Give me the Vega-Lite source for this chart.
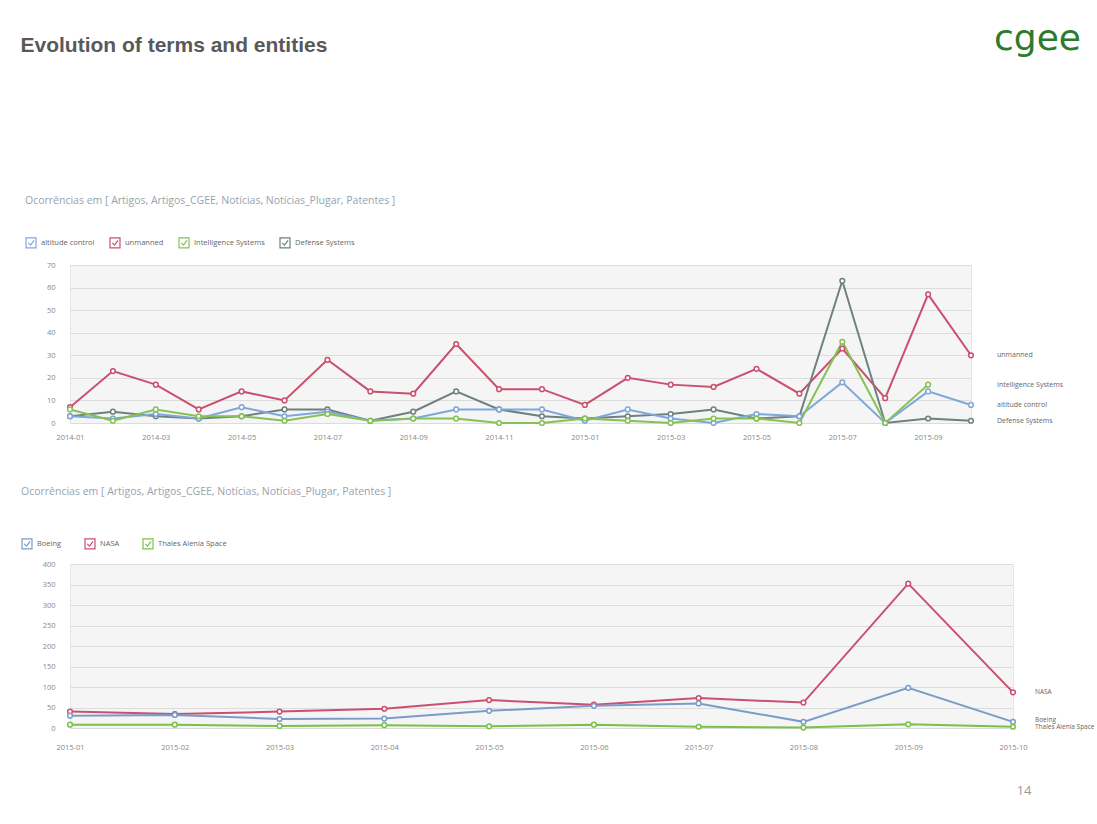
{
  "$schema": "https://vega.github.io/schema/vega-lite/v6.json",
  "background": "white",
  "padding": {"left": 20, "top": 20, "right": 0, "bottom": 0},
  "title": {"text": "Evolution of terms and entities", "anchor": "start", "fontSize": 21, "font": "Liberation Sans", "fontWeight": "bold", "color": "#595959", "offset": -35},
  "datasets": {
    "terms": [
      {"series":"unmanned","month":"2014-01","value":7},{"series":"unmanned","month":"2014-02","value":23},{"series":"unmanned","month":"2014-03","value":17},{"series":"unmanned","month":"2014-04","value":6},{"series":"unmanned","month":"2014-05","value":14},{"series":"unmanned","month":"2014-06","value":10},{"series":"unmanned","month":"2014-07","value":28},{"series":"unmanned","month":"2014-08","value":14},{"series":"unmanned","month":"2014-09","value":13},{"series":"unmanned","month":"2014-10","value":35},{"series":"unmanned","month":"2014-11","value":15},{"series":"unmanned","month":"2014-12","value":15},{"series":"unmanned","month":"2015-01","value":8},{"series":"unmanned","month":"2015-02","value":20},{"series":"unmanned","month":"2015-03","value":17},{"series":"unmanned","month":"2015-04","value":16},{"series":"unmanned","month":"2015-05","value":24},{"series":"unmanned","month":"2015-06","value":13},{"series":"unmanned","month":"2015-07","value":33},{"series":"unmanned","month":"2015-08","value":11},{"series":"unmanned","month":"2015-09","value":57},{"series":"unmanned","month":"2015-10","value":30},
      {"series":"Defense Systems","month":"2014-01","value":3},{"series":"Defense Systems","month":"2014-02","value":5},{"series":"Defense Systems","month":"2014-03","value":3},{"series":"Defense Systems","month":"2014-04","value":2},{"series":"Defense Systems","month":"2014-05","value":3},{"series":"Defense Systems","month":"2014-06","value":6},{"series":"Defense Systems","month":"2014-07","value":6},{"series":"Defense Systems","month":"2014-08","value":1},{"series":"Defense Systems","month":"2014-09","value":5},{"series":"Defense Systems","month":"2014-10","value":14},{"series":"Defense Systems","month":"2014-11","value":6},{"series":"Defense Systems","month":"2014-12","value":3},{"series":"Defense Systems","month":"2015-01","value":2},{"series":"Defense Systems","month":"2015-02","value":3},{"series":"Defense Systems","month":"2015-03","value":4},{"series":"Defense Systems","month":"2015-04","value":6},{"series":"Defense Systems","month":"2015-05","value":2},{"series":"Defense Systems","month":"2015-06","value":3},{"series":"Defense Systems","month":"2015-07","value":63},{"series":"Defense Systems","month":"2015-08","value":0},{"series":"Defense Systems","month":"2015-09","value":2},{"series":"Defense Systems","month":"2015-10","value":1},
      {"series":"altitude control","month":"2014-01","value":3},{"series":"altitude control","month":"2014-02","value":2},{"series":"altitude control","month":"2014-03","value":4},{"series":"altitude control","month":"2014-04","value":2},{"series":"altitude control","month":"2014-05","value":7},{"series":"altitude control","month":"2014-06","value":3},{"series":"altitude control","month":"2014-07","value":5},{"series":"altitude control","month":"2014-08","value":1},{"series":"altitude control","month":"2014-09","value":2},{"series":"altitude control","month":"2014-10","value":6},{"series":"altitude control","month":"2014-11","value":6},{"series":"altitude control","month":"2014-12","value":6},{"series":"altitude control","month":"2015-01","value":1},{"series":"altitude control","month":"2015-02","value":6},{"series":"altitude control","month":"2015-03","value":2},{"series":"altitude control","month":"2015-04","value":0},{"series":"altitude control","month":"2015-05","value":4},{"series":"altitude control","month":"2015-06","value":3},{"series":"altitude control","month":"2015-07","value":18},{"series":"altitude control","month":"2015-08","value":0},{"series":"altitude control","month":"2015-09","value":14},{"series":"altitude control","month":"2015-10","value":8},
      {"series":"Intelligence Systems","month":"2014-01","value":6},{"series":"Intelligence Systems","month":"2014-02","value":1},{"series":"Intelligence Systems","month":"2014-03","value":6},{"series":"Intelligence Systems","month":"2014-04","value":3},{"series":"Intelligence Systems","month":"2014-05","value":3},{"series":"Intelligence Systems","month":"2014-06","value":1},{"series":"Intelligence Systems","month":"2014-07","value":4},{"series":"Intelligence Systems","month":"2014-08","value":1},{"series":"Intelligence Systems","month":"2014-09","value":2},{"series":"Intelligence Systems","month":"2014-10","value":2},{"series":"Intelligence Systems","month":"2014-11","value":0},{"series":"Intelligence Systems","month":"2014-12","value":0},{"series":"Intelligence Systems","month":"2015-01","value":2},{"series":"Intelligence Systems","month":"2015-02","value":1},{"series":"Intelligence Systems","month":"2015-03","value":0},{"series":"Intelligence Systems","month":"2015-04","value":2},{"series":"Intelligence Systems","month":"2015-05","value":2},{"series":"Intelligence Systems","month":"2015-06","value":0},{"series":"Intelligence Systems","month":"2015-07","value":36},{"series":"Intelligence Systems","month":"2015-08","value":0},{"series":"Intelligence Systems","month":"2015-09","value":17}
    ],
    "termLabels": [
      {"series":"unmanned","month":"2015-10","value":30},
      {"series":"Intelligence Systems","month":"2015-10","value":17},
      {"series":"altitude control","month":"2015-10","value":8},
      {"series":"Defense Systems","month":"2015-10","value":1}
    ],
    "entities": [
      {"series":"NASA","month":"2015-01","value":40},{"series":"NASA","month":"2015-02","value":34},{"series":"NASA","month":"2015-03","value":40},{"series":"NASA","month":"2015-04","value":47},{"series":"NASA","month":"2015-05","value":68},{"series":"NASA","month":"2015-06","value":57},{"series":"NASA","month":"2015-07","value":73},{"series":"NASA","month":"2015-08","value":62},{"series":"NASA","month":"2015-09","value":352},{"series":"NASA","month":"2015-10","value":87},
      {"series":"Boeing","month":"2015-01","value":30},{"series":"Boeing","month":"2015-02","value":32},{"series":"Boeing","month":"2015-03","value":22},{"series":"Boeing","month":"2015-04","value":23},{"series":"Boeing","month":"2015-05","value":42},{"series":"Boeing","month":"2015-06","value":54},{"series":"Boeing","month":"2015-07","value":60},{"series":"Boeing","month":"2015-08","value":15},{"series":"Boeing","month":"2015-09","value":98},{"series":"Boeing","month":"2015-10","value":15},
      {"series":"Thales Alenia Space","month":"2015-01","value":8},{"series":"Thales Alenia Space","month":"2015-02","value":8},{"series":"Thales Alenia Space","month":"2015-03","value":5},{"series":"Thales Alenia Space","month":"2015-04","value":7},{"series":"Thales Alenia Space","month":"2015-05","value":4},{"series":"Thales Alenia Space","month":"2015-06","value":8},{"series":"Thales Alenia Space","month":"2015-07","value":3},{"series":"Thales Alenia Space","month":"2015-08","value":1},{"series":"Thales Alenia Space","month":"2015-09","value":9},{"series":"Thales Alenia Space","month":"2015-10","value":3}
    ],
    "entityLabels": [
      {"series":"NASA","month":"2015-10","value":87},
      {"series":"Boeing","month":"2015-10","value":19},
      {"series":"Thales Alenia Space","month":"2015-10","value":2}
    ]
  },
  "config": {
    "font": "Open Sans",
    "view": {"fill": "#f5f5f5", "stroke": "#e6e6e6"},
    "axis": {"domain": false, "ticks": false, "labelFont": "Open Sans", "labelFontSize": 7.5, "labelColor": "#888888", "gridColor": "#dcdcdc", "gridWidth": 1, "labelOverlap": false},
    "legend": {"labelFont": "Open Sans", "labelFontSize": 7.5, "labelColor": "#666666", "titleFont": "Open Sans", "titleFontSize": 10.5, "titleFontWeight": "normal", "titleColor": "#97a3ae", "titleLimit": 800, "symbolSize": 100, "symbolType": "M-1,-1H1V1H-1Z M-0.55,0L-0.1,0.45L0.6,-0.5", "symbolFillColor": "#eaf1fa", "symbolStrokeColor": "#3f6fb3", "symbolStrokeWidth": 1.2, "direction": "horizontal", "orient": "none"}
  },
  "resolve": {"scale": {"color": "independent"}, "legend": {"color": "independent"}},
  "align": "none",
  "spacing": 45,
  "vconcat": [
    {
      "title": {"text": "cgee", "anchor": "end", "frame": "group", "fontSize": 36, "font": "DejaVu Sans", "fontWeight": "normal", "color": "#2d7a2d", "offset": 138, "dx": 110},
      "width": 901,
      "height": 158,
      "encoding": {
        "x": {"field": "month", "type": "ordinal", "scale": {"type": "point", "padding": 0}, "axis": {"title": null, "labelAngle": 0, "labelPadding": 10, "values": ["2014-01","2014-03","2014-05","2014-07","2014-09","2014-11","2015-01","2015-03","2015-05","2015-07","2015-09"]}},
        "y": {"field": "value", "type": "quantitative", "scale": {"domain": [0, 70], "nice": false}, "axis": {"title": null, "values": [0,10,20,30,40,50,60,70], "labelPadding": 15}}
      },
      "layer": [
        {
          "data": {"name": "terms"},
          "mark": {"type": "line", "strokeWidth": 2},
          "encoding": {
            "color": {"field": "series", "type": "nominal", "scale": {"domain": ["altitude control","unmanned","Intelligence Systems","Defense Systems"], "range": ["#7fa7d9","#c9506f","#86c155","#6e8080"]}, "legend": {"title": "Ocorrências em [ Artigos, Artigos_CGEE, Notícias, Notícias_Plugar, Patentes ]", "legendX": -45, "legendY": -69, "titlePadding": 30, "columnPadding": 12}}
          }
        },
        {
          "data": {"name": "terms"},
          "mark": {"type": "point", "filled": false, "fill": "white", "fillOpacity": 1, "size": 22, "strokeWidth": 1.5},
          "encoding": {
            "color": {"field": "series", "type": "nominal"}
          }
        },
        {
          "data": {"name": "termLabels"},
          "mark": {"type": "text", "align": "left", "baseline": "middle", "dx": 26, "fontSize": 7, "color": "#666666"},
          "encoding": {
            "text": {"field": "series"}
          }
        }
      ]
    },
    {
      "width": 943,
      "height": 164,
      "encoding": {
        "x": {"field": "month", "type": "ordinal", "scale": {"type": "point", "padding": 0}, "axis": {"title": "14", "labelAngle": 0, "labelPadding": 15, "titleFont": "Open Sans", "titleFontSize": 13, "titleFontWeight": "normal", "titleColor": "#9a9a9a", "titleX": 961, "titleY": 62, "titleAlign": "right", "titleBaseline": "middle"}},
        "y": {"field": "value", "type": "quantitative", "scale": {"domain": [0, 400], "nice": false}, "axis": {"title": null, "values": [0,50,100,150,200,250,300,350,400], "labelPadding": 15}}
      },
      "layer": [
        {
          "data": {"name": "entities"},
          "mark": {"type": "line", "strokeWidth": 2},
          "encoding": {
            "color": {"field": "series", "type": "nominal", "scale": {"domain": ["Boeing","NASA","Thales Alenia Space"], "range": ["#7a9cc9","#c9506f","#7cc04a"]}, "legend": {"title": "Ocorrências em [ Artigos, Artigos_CGEE, Notícias, Notícias_Plugar, Patentes ]", "legendX": -49, "legendY": -77, "titlePadding": 40, "columnPadding": 20}}
          }
        },
        {
          "data": {"name": "entities"},
          "mark": {"type": "point", "filled": false, "fill": "white", "fillOpacity": 1, "size": 22, "strokeWidth": 1.5},
          "encoding": {
            "color": {"field": "series", "type": "nominal"}
          }
        },
        {
          "data": {"name": "entityLabels"},
          "mark": {"type": "text", "align": "left", "baseline": "middle", "dx": 22, "fontSize": 6.5, "color": "#666666"},
          "encoding": {
            "text": {"field": "series"}
          }
        }
      ]
    }
  ]
}
